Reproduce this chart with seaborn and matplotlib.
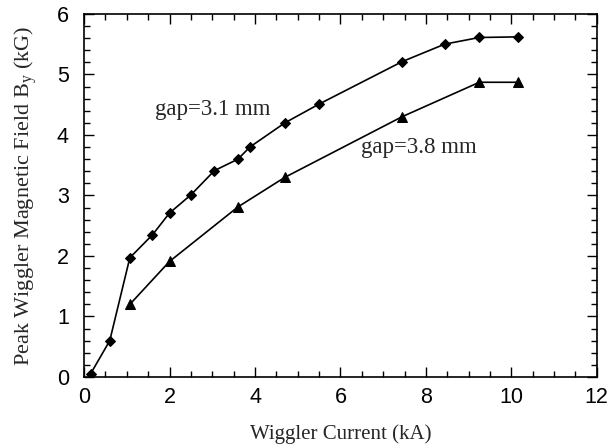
import matplotlib
matplotlib.use("Agg")
import matplotlib.pyplot as plt
from matplotlib.ticker import MultipleLocator
import seaborn as sns
import pandas as pd

current_31 = [0.15, 0.6, 1.07, 1.6, 2.0, 2.5, 3.05, 3.6, 3.88, 4.7, 5.5, 7.44, 8.44, 9.25, 10.15]
field_31 = [0.05, 0.6, 1.97, 2.35, 2.71, 3.01, 3.41, 3.6, 3.8, 4.2, 4.51, 5.21, 5.5, 5.61, 5.62]
current_38 = [1.07, 2.0, 3.6, 4.7, 7.44, 9.25, 10.15]
field_38 = [1.2, 1.91, 2.81, 3.3, 4.3, 4.87, 4.87]
labels = ["gap=3.1 mm", "gap=3.8 mm"]

sns.set_theme(style="ticks")
plt.rcParams['font.family'] = ['Liberation Sans', 'DejaVu Sans']

df = pd.concat([
    pd.DataFrame({"I": current_31, "B": field_31, "gap": labels[0]}),
    pd.DataFrame({"I": current_38, "B": field_38, "gap": labels[1]}),
])

fig = plt.figure(figsize=(6.14, 4.48), dpi=100)
ax = fig.add_axes([0.137, 0.1585, 0.835, 0.8105])
sns.lineplot(data=df[df.gap == labels[0]], x="I", y="B", color="black", marker="D",
             markersize=5, linewidth=1.2, sort=False, legend=False, ax=ax,
             markeredgecolor="black")
sns.lineplot(data=df[df.gap == labels[1]], x="I", y="B", color="black", marker="^",
             markersize=6.5, linewidth=1.2, sort=False, legend=False, ax=ax,
             markeredgecolor="black")

ax.set_xlim(0, 12)
ax.set_ylim(0, 6)
ax.xaxis.set_major_locator(MultipleLocator(2))
ax.xaxis.set_minor_locator(MultipleLocator(0.5))
ax.yaxis.set_major_locator(MultipleLocator(1))
ax.yaxis.set_minor_locator(MultipleLocator(0.2))
ax.tick_params(which="both", direction="in", top=True, right=True, colors="black",
               labelsize=15.5, width=1)
ax.tick_params(which="major", length=7)
ax.tick_params(which="minor", length=4)
for s in ax.spines.values():
    s.set_linewidth(1.2)
    s.set_color("black")
ax.tick_params(axis="x", pad=7)
ax.tick_params(axis="y", pad=11)

serif = ['Liberation Serif', 'DejaVu Serif']
ax.set_xlabel("Wiggler Current (kA)", fontsize=15, family=serif, labelpad=12)
ax.set_ylabel("Peak Wiggler Magnetic Field B$_\\mathregular{y}$ (kG)", fontsize=16, family=serif, labelpad=12)

ax.text(1.65, 4.42, labels[0], fontsize=16.5, family=serif, va="center", ha="left")
ax.text(6.47, 3.8, labels[1], fontsize=16.5, family=serif, va="center", ha="left")

fig.savefig("out.png", dpi=100)
